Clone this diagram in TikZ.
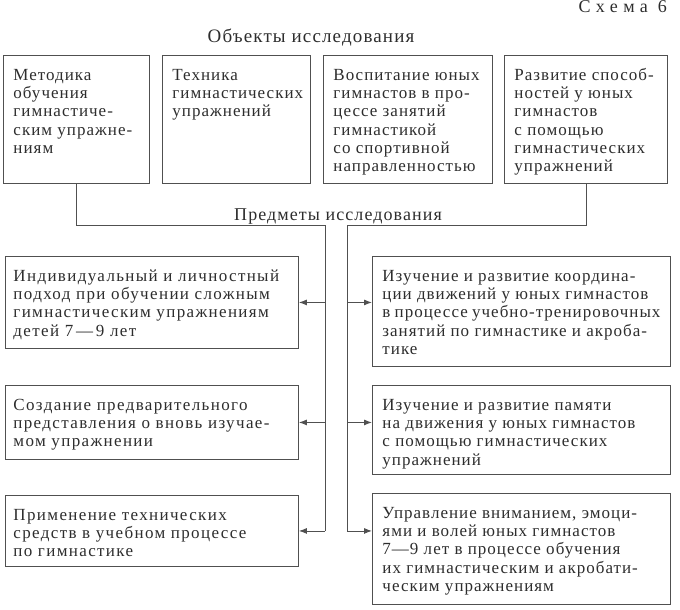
\documentclass[tikz,border=0pt]{standalone}
\usepackage{fontspec}
\setmainfont{Liberation Serif}[LetterSpace=6]
\usepackage{xcolor}
\usetikzlibrary{arrows.meta}
\usetikzlibrary{calc}

\definecolor{inkgray}{RGB}{45,45,45}
\definecolor{linegray}{RGB}{80,80,80}
\newcommand{\cell}[3]{\parbox[c][#2pt][t]{#1pt}{\raggedright\rule{0pt}{25pt}#3}}

\tikzset{
  box/.style={draw=linegray, line width=0.9pt, anchor=north west, inner xsep=10pt, inner ysep=0pt,
    text=inkgray, font=\fontsize{17}{18.2}\selectfont},
  headline/.style={anchor=base, inner sep=0pt, text=inkgray, font=\fontsize{18}{20}\selectfont},
  link/.style={draw=linegray, line width=0.9pt},
  feed/.style={link, -{Latex[length=8pt,width=6pt]}}
}

\begin{document}
\begin{tikzpicture}[x=1pt,y=1pt,yscale=-1]
  \useasboundingbox (0,0) rectangle (680,610); %page of 680 by 610

  % Text Node
  \node [headline, anchor=base east] (scheme) at (667,13) {\addfontfeature{LetterSpace=30}Схема 6};
  % Text Node
  \node [headline, font=\fontsize{19}{21}\selectfont] (objects) at (311,43) {Объекты исследования};
  % Text Node
  \node [headline] (subjects) at (338,220) {Предметы исследования};

  % Objects
  \node [box] (obj1) at (3,55) {\cell{126}{128}{Методика\\обучения\\гимнастиче-\\ским упражне-\\ниям}};
  \node [box] (obj2) at (162,55) {\cell{128}{128}{Техника\\гимнастических\\упражнений}};
  \node [box] (obj3) at (323,55) {\cell{149}{128}{Воспитание юных\\гимнастов в про-\\цессе занятий\\гимнастикой\\со спортивной\\направленностью}};
  \node [box] (obj4) at (504,55) {\cell{143}{128}{Развитие способ-\\ностей у юных\\гимнастов\\с помощью\\гимнастических\\упражнений}};

  % Subjects, left column
  \node [box, inner xsep=8pt] (subl1) at (5,256) {\cell{277}{92}{\addfontfeature{LetterSpace=8}Индивидуальный и личностный\\подход при обучении сложным\\гимнастическим упражнениям\\детей 7\,—\,9 лет}};
  \node [box, inner xsep=8pt] (subl2) at (5,385) {\cell{277}{74}{\addfontfeature{LetterSpace=8}Создание предварительного\\представления о вновь изучае-\\мом упражнении}};
  \node [box, inner xsep=8pt] (subl3) at (5,495) {\cell{277}{71}{\addfontfeature{LetterSpace=8}Применение технических\\средств в учебном процессе\\по гимнастике}};

  % Subjects, right column
  \node [box] (subr1) at (372,256) {\cell{278}{110}{Изучение и развитие координа-\\ции движений у юных гимнастов\\в процессе учебно-тренировочных\\занятий по гимнастике и акроба-\\тике}};
  \node [box] (subr2) at (372,385) {\cell{278}{89}{Изучение и развитие памяти\\на движения у юных гимнастов\\с помощью гимнастических\\упражнений}};
  \node [box] (subr3) at (372,493) {\cell{278}{111}{Управление вниманием, эмоци-\\ями и волей юных гимнастов\\7—9 лет в процессе обучения\\их гимнастическим и акробати-\\ческим упражнениям}};

  % trunks
  \coordinate (jl) at (325,225);
  \coordinate (jr) at (347,225);
  \draw [link] (obj1.south) |- (jl) -- (jl |- subl3.east);
  \draw [link] (obj4.south) |- (jr) -- (jr |- subl3.east);

  %Straight Lines
  \foreach \k in {1,2,3}{
    \draw [feed] (jl |- subl\k.east) -- (subl\k.east);
    \draw [feed] (jr |- subl\k.east) -- (subr\k.west |- subl\k.east);
  }
\end{tikzpicture}
\end{document}
